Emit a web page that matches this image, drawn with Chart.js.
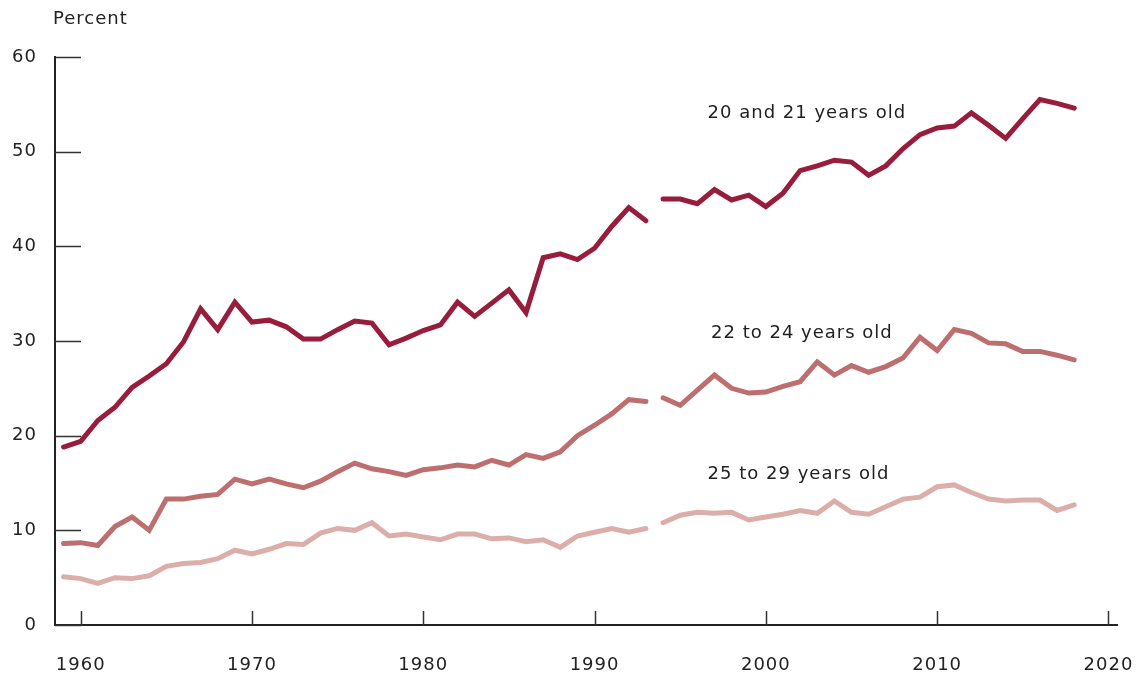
<!DOCTYPE html>
<html>
<head>
<meta charset="utf-8">
<script src="https://cdn.jsdelivr.net/npm/chart.js@4/dist/chart.umd.min.js"></script>
<style>
  html, body { margin: 0; padding: 0; background: #fff; }
  #wrap { width: 1139px; height: 677px; position: relative; }
</style>
</head>
<body>
<div id="wrap"><canvas id="c"></canvas></div>
<script>
// ---- data ----
const years = [];
for (let y = 1959; y <= 2018; y++) years.push(y);
const gapAfterYear = 1993;

const age20to21 = [
  18.8, 19.4, 21.6, 23.0, 25.1, 26.3, 27.6, 29.9, 33.4, 31.2, 34.1,
  32.0, 32.2, 31.5, 30.2, 30.2, 31.2, 32.1, 31.9, 29.6, 30.3,
  31.1, 31.7, 34.1, 32.6, 34.0, 35.4, 33.0, 38.8, 39.2, 38.6,
  39.8, 42.1, 44.1, 42.7, 45.0, 45.0, 44.5, 46.0, 44.9, 45.4,
  44.2, 45.6, 48.0, 48.5, 49.1, 48.9, 47.5, 48.5, 50.3, 51.8,
  52.5, 52.7, 54.1, 52.8, 51.4, 53.5, 55.5, 55.1, 54.6
];
const age22to24 = [
  8.6, 8.7, 8.4, 10.4, 11.4, 10.0, 13.3, 13.3, 13.6, 13.8, 15.4,
  14.9, 15.4, 14.9, 14.5, 15.2, 16.2, 17.1, 16.5, 16.2, 15.8,
  16.4, 16.6, 16.9, 16.7, 17.4, 16.9, 18.0, 17.6, 18.3, 20.0,
  21.1, 22.3, 23.8, 23.6, 24.0, 23.2, 24.8, 26.4, 25.0, 24.5,
  24.6, 25.2, 25.7, 27.8, 26.4, 27.4, 26.7, 27.3, 28.2, 30.4,
  29.0, 31.2, 30.8, 29.8, 29.7, 28.9, 28.9, 28.5, 28.0
];
const age25to29 = [
  5.1, 4.9, 4.4, 5.0, 4.9, 5.2, 6.2, 6.5, 6.6, 7.0, 7.9,
  7.5, 8.0, 8.6, 8.5, 9.7, 10.2, 10.0, 10.8, 9.4, 9.6,
  9.3, 9.0, 9.6, 9.6, 9.1, 9.2, 8.8, 9.0, 8.2, 9.4,
  9.8, 10.2, 9.8, 10.2, 10.8, 11.6, 11.9, 11.8, 11.9, 11.1,
  11.4, 11.7, 12.1, 11.8, 13.1, 11.9, 11.7, 12.5, 13.3, 13.5,
  14.6, 14.8, 14.0, 13.3, 13.1, 13.2, 13.2, 12.1, 12.7
];
const seriesNames = ['20 and 21 years old', '22 to 24 years old', '25 to 29 years old'];
const xTickValues = [1960, 1970, 1980, 1990, 2000, 2010, 2020];
const yTickValues = [0, 10, 20, 30, 40, 50, 60];
const yAxisTitle = 'Percent';

// ---- styling ----
const colors = ['#981d3d', '#bd6f70', '#dcaeaa'];
const FONT = '"DejaVu Sans", sans-serif';
const TEXT = '#222222';
const labelAnchors = [
  { x: 1996.6, y: 54.0 },
  { x: 1996.8, y: 30.8 },
  { x: 1996.6, y: 15.9 }
];

function toPoints(vals) {
  const pts = [];
  years.forEach((yr, i) => {
    pts.push({ x: yr, y: vals[i] });
    if (yr === gapAfterYear) pts.push({ x: yr + 0.5, y: null });
  });
  return pts;
}

const allSeries = [age20to21, age22to24, age25to29];

const decorPlugin = {
  id: 'decor',
  beforeDraw(chart) {
    chart.ctx.letterSpacing = '1px';
  },
  afterDraw(chart) {
    const ctx = chart.ctx;
    const xs = chart.scales.x, ys = chart.scales.y;
    ctx.save();
    ctx.strokeStyle = '#333';
    ctx.lineWidth = 1.5;
    ys.ticks.forEach(t => {
      const py = Math.round(ys.getPixelForValue(t.value)) + 0.5;
      ctx.beginPath();
      ctx.moveTo(xs.left, py);
      ctx.lineTo(xs.left + 26, py);
      ctx.stroke();
    });
    xs.ticks.forEach(t => {
      const px = Math.round(xs.getPixelForValue(t.value)) + 0.5;
      ctx.beginPath();
      ctx.moveTo(px, ys.bottom);
      ctx.lineTo(px, ys.bottom - 14);
      ctx.stroke();
    });
    ctx.fillStyle = TEXT;
    ctx.letterSpacing = '1px';
    ctx.font = '18px ' + FONT;
    ctx.textAlign = 'left';
    ctx.textBaseline = 'middle';
    seriesNames.forEach((name, i) => {
      const a = labelAnchors[i];
      ctx.fillText(name, xs.getPixelForValue(a.x), ys.getPixelForValue(a.y));
    });
    ctx.fillText(yAxisTitle, xs.left - 2, ys.top - 38);
    ctx.restore();
  }
};

new Chart(document.getElementById('c'), {
  type: 'line',
  data: {
    datasets: allSeries.map((vals, i) => ({
      label: seriesNames[i],
      data: toPoints(vals),
      borderColor: colors[i],
      borderWidth: 5,
      pointRadius: 0,
      pointHoverRadius: 0,
      tension: 0,
      spanGaps: false,
      borderCapStyle: 'round',
      borderJoinStyle: 'miter'
    }))
  },
  options: {
    responsive: true,
    maintainAspectRatio: false,
    animation: false,
    layout: { padding: { top: 57, right: 22, left: 0, bottom: 0 } },
    plugins: { legend: { display: false }, tooltip: { enabled: false } },
    scales: {
      x: {
        type: 'linear',
        min: 1958.5,
        max: 2020.5,
        afterBuildTicks: s => { s.ticks = xTickValues.map(v => ({ value: v })); },
        afterFit: s => { s.height = 52; s.paddingLeft = 0; s.paddingRight = 0; },
        grid: { display: false, drawTicks: false },
        border: { display: true, color: '#222', width: 2 },
        ticks: {
          padding: 30,
          color: TEXT,
          font: { family: FONT, size: 18 },
          maxRotation: 0,
          callback: v => String(v)
        }
      },
      y: {
        min: 0,
        max: 60,
        afterBuildTicks: s => { s.ticks = yTickValues.map(v => ({ value: v })); },
        afterFit: s => { s.width = 55; s.paddingTop = 0; s.paddingBottom = 0; },
        grid: { display: false, drawTicks: false },
        border: { display: true, color: '#222', width: 2 },
        ticks: {
          padding: 18,
          color: TEXT,
          font: { family: FONT, size: 18 },
          callback: v => String(v)
        }
      }
    }
  },
  plugins: [decorPlugin]
});
</script>
</body>
</html>
